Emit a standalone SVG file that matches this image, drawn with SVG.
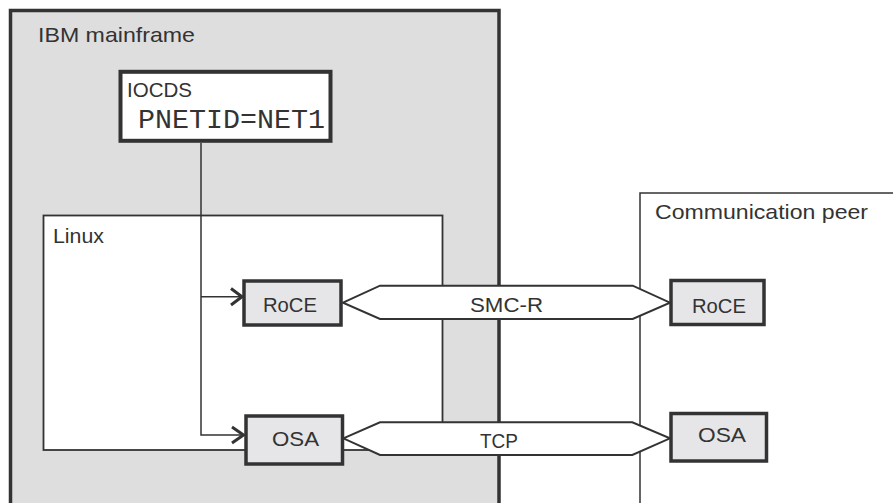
<svg xmlns="http://www.w3.org/2000/svg" width="893" height="503" viewBox="0 0 893 503">
<style>
.t{font-family:"Liberation Sans",Arial,sans-serif;font-size:21px;fill:#333}
.mono{font-family:"Liberation Mono","Courier New",monospace;font-size:28px;fill:#333}
.node{fill:#e6e6e8;stroke:#333;stroke-width:3.5}
.conn{fill:none;stroke:#333;stroke-width:1.5}
.head{fill:none;stroke:#333;stroke-width:3}
.hex{fill:#fff;stroke:#333;stroke-width:2}
</style>
<g id="mainframe">
<rect x="10.5" y="10.5" width="488.5" height="520" fill="#dedede" stroke="#333" stroke-width="3.5"/>
<text class="t" x="38" y="42" textLength="157" lengthAdjust="spacingAndGlyphs">IBM mainframe</text>
</g>
<g id="linux">
<rect x="43.5" y="215.5" width="399" height="234.5" fill="#fff" stroke="#333" stroke-width="1.8"/>
<text class="t" x="53" y="243" textLength="51" lengthAdjust="spacingAndGlyphs">Linux</text>
</g>
<g id="peer">
<rect x="640" y="193" width="300" height="400" fill="#fff" stroke="#333" stroke-width="1.5"/>
<text class="t" x="655" y="219" textLength="213" lengthAdjust="spacingAndGlyphs">Communication peer</text>
</g>
<g id="iocds">
<rect x="120.5" y="71.8" width="210" height="69" fill="#fff" stroke="#333" stroke-width="4"/>
<text class="t" x="127" y="97" textLength="65" lengthAdjust="spacingAndGlyphs">IOCDS</text>
<text class="mono" x="138" y="128" textLength="187" lengthAdjust="spacingAndGlyphs">PNETID=NET1</text>
</g>
<g id="connectors">
<path class="conn" d="M201 143 V435 H243"/>
<path class="conn" d="M201 296.7 H241"/>
<path class="head" d="M231 288.5 L242 296.7 L231 305"/>
<path class="head" d="M232 427 L243.5 435 L232 443"/>
<polygon id="smc-r" class="hex" points="343,302.7 380,285.7 632.7,285.7 670,302.7 632.7,319 380,319"/>
<polygon id="tcp" class="hex" points="343.3,438.3 380,422.3 632.3,422.3 670,438.3 632.3,455 380,455"/>
<text class="t" x="470" y="312" textLength="73" lengthAdjust="spacingAndGlyphs">SMC-R</text>
<text class="t" x="480" y="448" textLength="38" lengthAdjust="spacingAndGlyphs">TCP</text>
</g>
<g id="roce-left">
<rect class="node" x="244" y="281" width="97" height="44"/>
<text class="t" x="263" y="312" textLength="54" lengthAdjust="spacingAndGlyphs">RoCE</text>
</g>
<g id="osa-left">
<rect class="node" x="246" y="416" width="96.5" height="48"/>
<text class="t" x="272" y="446" textLength="47" lengthAdjust="spacingAndGlyphs">OSA</text>
</g>
<g id="roce-right">
<rect class="node" x="671" y="280.5" width="93" height="44"/>
<text class="t" x="692" y="313" textLength="54" lengthAdjust="spacingAndGlyphs">RoCE</text>
</g>
<g id="osa-right">
<rect class="node" x="671" y="413.5" width="95.5" height="47.5"/>
<text class="t" x="698" y="442" textLength="48" lengthAdjust="spacingAndGlyphs">OSA</text>
</g>
</svg>
